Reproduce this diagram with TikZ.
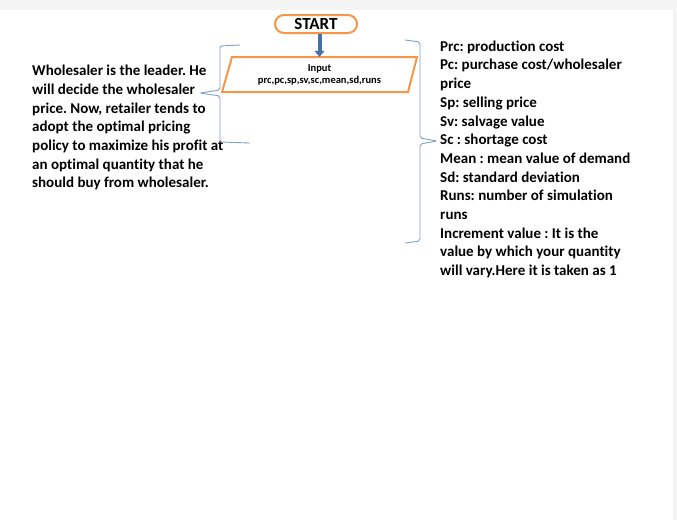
\documentclass[tikz,border=0pt]{standalone}
\usepackage{fontspec}
\setmainfont{Carlito}[Ligatures={NoCommon}]
\usetikzlibrary{arrows.meta}
\definecolor{orng}{HTML}{F79646}
\definecolor{bluearrow}{HTML}{4672A8}
\definecolor{bracec}{HTML}{7FA0C8}
\definecolor{bandgray}{HTML}{F4F4F4}
\tikzset{
  txt/.style={inner sep=0pt, align=left, anchor=north west, font=\bfseries\fontsize{15}{18.7}\selectfont},
  startbox/.style={draw=orng, line width=2pt, rounded corners=9pt, fill=white, minimum width=82pt, minimum height=18pt, inner sep=0pt, font=\bfseries\fontsize{17}{17}\selectfont},
  brace/.style={draw=bracec, line width=0.9pt, rounded corners=2pt},
}
\begin{document}
\frenchspacing
\begin{tikzpicture}[x=1pt,y=-1pt]
\useasboundingbox (0,0) rectangle (677,520);
\fill[bandgray] (0,0) rectangle (677,10);
\fill[bandgray] (673,0) rectangle (677,520);
% START
\node[startbox] (start) at (316,24) {START};
% Input parallelogram
\node[inner sep=0pt, minimum width=180pt, minimum height=35pt, align=center, font=\bfseries\fontsize{10.5}{12}\selectfont] (input) at (319.5,75) {Input\\prc,pc,sp,sv,sc,mean,sd,runs};
\draw[orng, line width=2pt, line join=miter] (222,92) -- (232,57) -- (417,57) -- (408,92) -- cycle;
\draw[bluearrow, line width=4pt, -{Triangle[length=6pt,width=10pt]}] (start.south -| input.north) -- ([yshift=0.5pt]input.north);
% left text
\node[txt] (lefttext) at (32,65) {Wholesaler is the leader. He\\will decide the wholesaler\\price. Now, retailer tends to\\adopt the optimal pricing\\policy to maximize his profit at\\an optimal quantity that he\\should buy from wholesaler.};
% right text
\node[txt] (righttext) at (440,40.5) {Prc: production cost\\Pc: purchase cost/wholesaler\\price\\Sp: selling price\\Sv: salvage value\\Sc : shortage cost\\Mean : mean value of demand\\Sd: standard deviation\\Runs: number of simulation\\runs\\Increment value : It is the\\value by which your quantity\\will vary.Here it is taken as 1};
% braces
\draw[brace] (240,45) -- (220,46) -- (220,90) -- (200,93) -- (220,96) -- (220,142) -- (250,143);
\draw[brace] (405,40) -- (420,42) -- (420,138) -- (437,141) -- (420,144) -- (420,241) -- (405,243);
\end{tikzpicture}
\end{document}
